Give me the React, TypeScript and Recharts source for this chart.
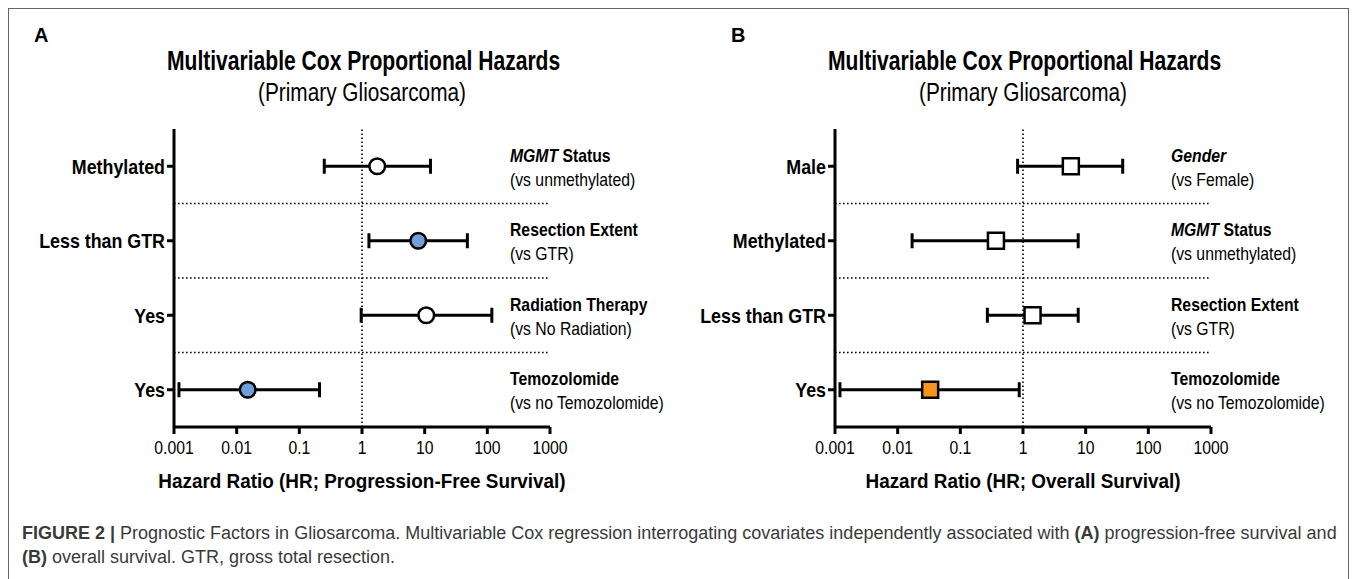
import React from "react";
import {
  ScatterChart,
  Scatter,
  XAxis,
  YAxis,
  ErrorBar,
  ReferenceLine,
  Label,
} from "recharts";

const SANS = "'Liberation Sans', Arial, sans-serif";

const xTicks = [0.001, 0.01, 0.1, 1, 10, 100, 1000];
const italicWords = ["MGMT", "Gender"];

// Panel A - progression-free survival
const pfsCategories = ["Methylated", "Less than GTR", "Yes", "Yes"];
const pfsFactors = ["MGMT Status", "Resection Extent", "Radiation Therapy", "Temozolomide"];
const pfsReference = ["(vs unmethylated)", "(vs GTR)", "(vs No Radiation)", "(vs no Temozolomide)"];
const pfsHR = [1.75, 7.9, 10.6, 0.015];
const pfsLower = [0.25, 1.29, 0.97, 0.0012];
const pfsUpper = [12.4, 48, 118, 0.21];
const pfsSignificant = [false, true, false, true];

// Panel B - overall survival
const osCategories = ["Male", "Methylated", "Less than GTR", "Yes"];
const osFactors = ["Gender", "MGMT Status", "Resection Extent", "Temozolomide"];
const osReference = ["(vs Female)", "(vs unmethylated)", "(vs GTR)", "(vs no Temozolomide)"];
const osHR = [5.8, 0.37, 1.42, 0.033];
const osLower = [0.82, 0.017, 0.27, 0.0012];
const osUpper = [39, 7.6, 7.6, 0.87];
const osSignificant = [false, false, false, true];

type Row = { y: number; hr: number; err: number[]; sig: boolean };

const buildRows = (hr: number[], lo: number[], hi: number[], sig: boolean[]): Row[] =>
  hr.map((v, i) => ({ y: i + 1, hr: v, err: [v - lo[i], hi[i] - v], sig: sig[i] }));

// the figure uses a condensed Helvetica; squeeze Liberation Sans horizontally
const Narrow = ({ x, y, sx = 0.83, children, ...rest }: any) => (
  <text transform={`translate(${x},${y}) scale(${sx},1)`} fontFamily={SANS} fill="#000" {...rest}>
    {children}
  </text>
);

const XTick = ({ x, y, payload }: any) => (
  <Narrow x={x} y={y + 4} textAnchor="middle" dy="0.71em" fontSize={19}>
    {String(payload.value)}
  </Narrow>
);

const CategoryTick = ({ x, y, payload, categories }: any) => (
  <Narrow x={x} y={y} textAnchor="end" dominantBaseline="central" fontSize={21} fontWeight={700} sx={0.85}>
    {categories[payload.value - 1] ?? ""}
  </Narrow>
);

const FactorTick = (props: any) => {
  const { x, y, payload, factors, refs } = props;
  const i = payload.value - 1;
  if (i < 0 || i >= factors.length) return null;
  const words = factors[i].split(" ");
  return (
    <g>
      <Narrow x={x - 40} y={y - 11} dominantBaseline="central" fontSize={19} fontWeight={700}>
        {words.map((w: string, k: number) => (
          <tspan key={k} fontStyle={italicWords.includes(w) ? "italic" : "normal"}>
            {(k > 0 ? " " : "") + w}
          </tspan>
        ))}
      </Narrow>
      <Narrow x={x - 40} y={y + 13} dominantBaseline="central" fontSize={19}>
        {refs[i]}
      </Narrow>
    </g>
  );
};

const ForestPanel = ({
  categories,
  factors,
  refs,
  rows,
  marker,
  accent,
  axisTitle,
}: {
  categories: string[];
  factors: string[];
  refs: string[];
  rows: Row[];
  marker: "circle" | "square";
  accent: string;
  axisTitle: string;
}) => {
  const yTicks = categories.map((_, i) => i + 1);
  const separators = categories.slice(1).map((_, i) => i + 1.5);
  const shape = (p: any) => {
    const fill = p.payload.sig ? accent : "#fff";
    if (marker === "circle")
      return <circle cx={p.cx} cy={p.cy} r={7.8} fill={fill} stroke="#000" strokeWidth={2.5} />;
    return <rect x={p.cx - 8} y={p.cy - 8} width={16} height={16} fill={fill} stroke="#000" strokeWidth={2.5} />;
  };
  return (
    <ScatterChart width={680} height={400} margin={{ top: 29, right: 0, bottom: 0, left: 0 }}>
      <XAxis
        dataKey="hr"
        type="number"
        scale="log"
        domain={[0.001, 1000]}
        ticks={xTicks}
        allowDataOverflow
        axisLine={{ stroke: "#000", strokeWidth: 3 }}
        tickLine={{ stroke: "#000", strokeWidth: 3 }}
        tickSize={7}
        tick={<XTick />}
        height={73}
      >
        <Label
          content={(p: any) => {
            const vb = p.viewBox;
            return (
              <Narrow
                x={vb.x + vb.width / 2}
                y={vb.y + 61}
                textAnchor="middle"
                fontSize={21}
                fontWeight={700}
                sx={0.9}
              >
                {axisTitle}
              </Narrow>
            );
          }}
        />
      </XAxis>
      <YAxis
        yAxisId="left"
        dataKey="y"
        type="number"
        domain={[0.5, categories.length + 0.5]}
        reversed
        ticks={yTicks}
        allowDataOverflow
        axisLine={{ stroke: "#000", strokeWidth: 3 }}
        tickLine={{ stroke: "#000", strokeWidth: 3 }}
        tickSize={7}
        tickMargin={2}
        tick={<CategoryTick categories={categories} />}
        width={174}
      />
      <YAxis
        yAxisId="right"
        orientation="right"
        dataKey="y"
        type="number"
        domain={[0.5, categories.length + 0.5]}
        reversed
        ticks={yTicks}
        allowDataOverflow
        axisLine={false}
        tickLine={false}
        tickSize={0}
        tickMargin={0}
        tick={<FactorTick factors={factors} refs={refs} />}
        width={130}
      />
      {separators.map((s) => (
        <ReferenceLine
          key={s}
          yAxisId="left"
          y={s}
          stroke="#000"
          strokeWidth={1.6}
          strokeDasharray="1.6 2.4"
        />
      ))}
      <ReferenceLine yAxisId="left" x={1} stroke="#000" strokeWidth={1.6} strokeDasharray="1.6 2.4" />
      <Scatter yAxisId="left" data={rows} shape={shape} isAnimationActive={false}>
        <ErrorBar dataKey="err" direction="x" width={7.5} stroke="#000" strokeWidth={3} />
      </Scatter>
    </ScatterChart>
  );
};

const titleStyle: React.CSSProperties = {
  position: "absolute",
  width: 500,
  textAlign: "center",
  fontFamily: SANS,
  color: "#000",
  lineHeight: 1,
  whiteSpace: "nowrap",
};

const PanelHeader = ({ letter, left, letterLeft }: { letter: string; left: number; letterLeft: number }) => (
  <>
    <div style={{ position: "absolute", left: letterLeft, top: 24, fontFamily: SANS, fontWeight: 700, fontSize: 20 }}>
      {letter}
    </div>
    <div
      style={{
        ...titleStyle,
        left: left + 362 - 250,
        top: 48,
        fontSize: 27,
        fontWeight: 700,
        transform: "scaleX(0.78)",
      }}
    >
      Multivariable Cox Proportional Hazards
    </div>
    <div style={{ ...titleStyle, left: left + 362 - 250, top: 79, fontSize: 26, transform: "scaleX(0.8)" }}>
      (Primary Gliosarcoma)
    </div>
  </>
);

export default function App() {
  const pfsRows = buildRows(pfsHR, pfsLower, pfsUpper, pfsSignificant);
  const osRows = buildRows(osHR, osLower, osUpper, osSignificant);
  return (
    <div style={{ position: "absolute", left: 0, top: 0, width: 1357, height: 579, background: "#fff", overflow: "hidden" }}>
      <div
        style={{
          position: "absolute",
          left: 8,
          top: 8,
          width: 1339,
          height: 620,
          border: "1.5px solid #666",
        }}
      />
      <PanelHeader letter="A" left={0} letterLeft={34} />
      <PanelHeader letter="B" left={661} letterLeft={731} />
      <div style={{ position: "absolute", left: 0, top: 100 }}>
        <ForestPanel
          categories={pfsCategories}
          factors={pfsFactors}
          refs={pfsReference}
          rows={pfsRows}
          marker="circle"
          accent="#6f9fd8"
          axisTitle="Hazard Ratio (HR; Progression-Free Survival)"
        />
      </div>
      <div style={{ position: "absolute", left: 661, top: 100 }}>
        <ForestPanel
          categories={osCategories}
          factors={osFactors}
          refs={osReference}
          rows={osRows}
          marker="square"
          accent="#f7941d"
          axisTitle="Hazard Ratio (HR; Overall Survival)"
        />
      </div>
      <div
        style={{
          position: "absolute",
          left: 22,
          top: 521,
          fontFamily: SANS,
          fontSize: 18,
          lineHeight: "24px",
          color: "#3a3a3a",
          whiteSpace: "nowrap",
        }}
      >
        <b>FIGURE 2 |</b> Prognostic Factors in Gliosarcoma. Multivariable Cox regression interrogating covariates
        independently associated with <b>(A)</b> progression-free survival and
        <br />
        <b>(B)</b> overall survival. GTR, gross total resection.
      </div>
    </div>
  );
}
